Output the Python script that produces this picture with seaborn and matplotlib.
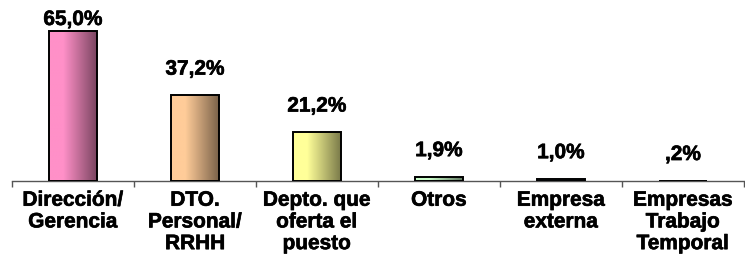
"""Bar chart: quién participa en la selección (valores en %)."""

import matplotlib.pyplot as plt
import matplotlib.colors as mcolors
import matplotlib.patheffects as pe
import numpy as np
import pandas as pd
import seaborn as sns

categories = [
    "Dirección/\nGerencia",
    "DTO.\nPersonal/\nRRHH",
    "Depto. que\noferta el\npuesto",
    "Otros",
    "Empresa\nexterna",
    "Empresas\nTrabajo\nTemporal",
]
values = [65.0, 37.2, 21.2, 1.9, 1.0, 0.2]
value_labels = ["65,0%", "37,2%", "21,2%", "1,9%", "1,0%", ",2%"]
bar_colors = ["#ff90c8", "#ffcc99", "#ffff99", "#ccffcc", "#99ccff", "#ccccff"]


def gradient_cmap(hex_color: str) -> mcolors.LinearSegmentedColormap:
    base = np.array(mcolors.to_rgb(hex_color))
    dark = base * 0.48
    return mcolors.LinearSegmentedColormap.from_list(
        "g", [(0.0, base), (0.3, base), (1.0, dark)]
    )


def main() -> None:
    sns.set_theme(style="white")
    plt.rcParams["font.family"] = ["Liberation Sans", "DejaVu Sans"]
    plt.rcParams["font.weight"] = "bold"
    heavy = [pe.withStroke(linewidth=0.45, foreground="black")]

    df = pd.DataFrame({"cat": categories, "val": values})
    fig = plt.figure(figsize=(7.45, 2.65), dpi=100)
    ax = fig.add_axes([12 / 745, 84 / 265, 732 / 745, 181 / 265])

    sns.barplot(
        data=df, x="cat", y="val", hue="cat", palette=bar_colors,
        width=0.39, legend=False, edgecolor="black", linewidth=1.4, ax=ax,
    )

    ymax = 181 / (150 / 65)
    grad = np.linspace(0, 1, 256).reshape(1, -1)
    for patch, col in zip(ax.patches, bar_colors):
        x0, y0 = patch.get_x(), patch.get_y()
        w, h = patch.get_width(), patch.get_height()
        img = ax.imshow(grad, extent=[x0, x0 + w, y0, y0 + h], aspect="auto",
                        cmap=gradient_cmap(col), zorder=2, interpolation="bilinear")
        img.set_clip_path(patch)
        patch.set_facecolor("none")
        patch.set_zorder(3)

    ax.set_xlim(-0.5, len(categories) - 0.5)
    ax.set_ylim(0, ymax)

    # value labels above the bars, kept inside the top of the axes
    px = 150 / 65
    for i, (v, lab) in enumerate(zip(values, value_labels)):
        y = min(v + 26 / px, ymax - 19.5 / px)
        ax.text(i, y, lab, ha="center", va="center", fontsize=15,
                fontweight="bold", color="black", path_effects=heavy)

    for side in ["top", "right", "left"]:
        ax.spines[side].set_visible(False)
    ax.spines["bottom"].set_color("#555555")
    ax.spines["bottom"].set_linewidth(1.0)
    ax.set_yticks([])
    ax.set_xticks(range(len(categories)))
    ax.set_xticklabels(categories, linespacing=1.18)
    for lbl in ax.get_xticklabels():
        lbl.set_fontweight("bold")
        lbl.set_fontsize(15)
        lbl.set_color("black")
        lbl.set_path_effects(heavy)
    ax.set_xticks(np.arange(-0.5, len(categories)), minor=True)
    ax.tick_params(axis="x", which="major", length=0, pad=7)
    ax.tick_params(axis="x", which="minor", length=4, width=1.0,
                   color="#555555", direction="out", bottom=True)
    ax.set_xlabel("")
    ax.set_ylabel("")

    fig.savefig("out.png", dpi=100)
    plt.close(fig)


if __name__ == "__main__":
    main()
